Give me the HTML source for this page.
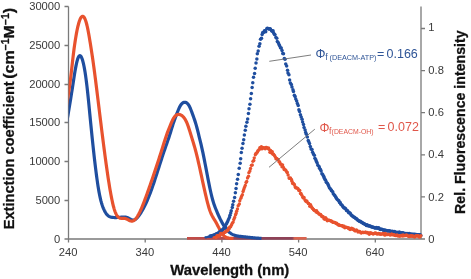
<!DOCTYPE html>
<html><head><meta charset="utf-8"><style>
html,body{margin:0;padding:0;background:#fff;width:471px;height:279px;overflow:hidden}
svg{position:absolute;left:0;top:0;font-family:"Liberation Sans",sans-serif;will-change:transform}
</style></head><body>
<svg width="471" height="279" viewBox="0 0 471 279">
<defs><clipPath id="plot"><rect x="68.6" y="0" width="352.4" height="279"/></clipPath></defs>
<path d="M68.5 6.5 V239 H421 M64.5 6.5 H68.5 M64.5 45.5 H68.5 M64.5 84.5 H68.5 M64.5 122.5 H68.5 M64.5 161.5 H68.5 M64.5 200.5 H68.5 M64.5 239 H68.5" stroke="#7a7a7a" stroke-width="1.3" fill="none"/>
<path d=" M68.5 239 V242.5 M145.2 239 V242.5 M221.9 239 V242.5 M298.6 239 V242.5 M375.3 239 V242.5" stroke="#7a7a7a" stroke-width="1.3" fill="none"/>
<path d="M421 6.5 V239  M421 239.0 H425 M421 196.9 H425 M421 154.8 H425 M421 112.7 H425 M421 70.6 H425 M421 28.5 H425" stroke="#7a7a7a" stroke-width="1.3" fill="none"/>
<linearGradient id="bl" gradientUnits="userSpaceOnUse" x1="187" y1="0" x2="306.6" y2="0"><stop offset="0" stop-color="#c44c46"/><stop offset="0.3" stop-color="#b44a50"/><stop offset="0.45" stop-color="#8e4257"/><stop offset="0.88" stop-color="#8e4257"/><stop offset="0.9" stop-color="#d9644f"/><stop offset="1" stop-color="#d9644f"/></linearGradient>
<path d="M187 238.4 H306.6" stroke="url(#bl)" stroke-width="2.8" fill="none"/>
<path clip-path="url(#plot)" d="M66.00 126.21 L66.50 123.43 L67.00 120.64 L67.50 117.82 L68.00 114.96 L68.50 112.04 L69.00 109.07 L69.50 106.05 L70.00 102.98 L70.50 99.89 L71.00 96.77 L71.50 93.62 L72.00 90.44 L72.50 87.23 L73.00 83.97 L73.50 80.72 L74.00 77.50 L74.50 74.36 L75.00 71.34 L75.50 68.49 L76.00 65.85 L76.50 63.46 L77.00 61.37 L77.50 59.58 L78.00 58.13 L78.50 57.00 L79.00 56.20 L79.50 55.75 L80.00 55.64 L80.50 55.88 L81.00 56.44 L81.50 57.32 L82.00 58.52 L82.50 60.02 L83.00 61.81 L83.50 63.89 L84.00 66.25 L84.50 68.90 L85.00 71.85 L85.50 75.09 L86.00 78.64 L86.50 82.47 L87.00 86.60 L87.50 91.02 L88.00 95.71 L88.50 100.63 L89.00 105.69 L89.50 110.84 L90.00 116.02 L90.50 121.15 L91.00 126.21 L91.50 131.20 L92.00 136.11 L92.50 140.93 L93.00 145.66 L93.50 150.29 L94.00 154.81 L94.50 159.21 L95.00 163.49 L95.50 167.63 L96.00 171.63 L96.50 175.47 L97.00 179.14 L97.50 182.63 L98.00 185.92 L98.50 189.02 L99.00 191.89 L99.50 194.54 L100.00 196.95 L100.50 199.14 L101.00 201.13 L101.50 202.92 L102.00 204.55 L102.50 206.02 L103.00 207.35 L103.50 208.56 L104.00 209.67 L104.50 210.70 L105.00 211.64 L105.50 212.51 L106.00 213.30 L106.50 214.01 L107.00 214.63 L107.50 215.17 L108.00 215.63 L108.50 216.02 L109.00 216.34 L109.50 216.60 L110.00 216.82 L110.50 216.98 L111.00 217.12 L111.50 217.22 L112.00 217.31 L112.50 217.38 L113.00 217.43 L113.50 217.48 L114.00 217.51 L114.50 217.53 L115.00 217.55 L115.50 217.55 L116.00 217.54 L116.50 217.53 L117.00 217.51 L117.50 217.48 L118.00 217.45 L118.50 217.41 L119.00 217.37 L119.50 217.32 L120.00 217.27 L120.50 217.22 L121.00 217.17 L121.50 217.12 L122.00 217.07 L122.50 217.04 L123.00 217.01 L123.50 216.99 L124.00 216.99 L124.50 217.01 L125.00 217.05 L125.50 217.11 L126.00 217.19 L126.50 217.30 L127.00 217.44 L127.50 217.61 L128.00 217.82 L128.50 218.06 L129.00 218.32 L129.50 218.60 L130.00 218.89 L130.50 219.16 L131.00 219.42 L131.50 219.65 L132.00 219.84 L132.50 219.97 L133.00 220.05 L133.50 220.05 L134.00 219.97 L134.50 219.81 L135.00 219.57 L135.50 219.27 L136.00 218.89 L136.50 218.46 L137.00 217.97 L137.50 217.42 L138.00 216.83 L138.50 216.20 L139.00 215.52 L139.50 214.82 L140.00 214.08 L140.50 213.32 L141.00 212.53 L141.50 211.72 L142.00 210.88 L142.50 210.01 L143.00 209.12 L143.50 208.20 L144.00 207.26 L144.50 206.28 L145.00 205.28 L145.50 204.25 L146.00 203.20 L146.50 202.11 L147.00 200.99 L147.50 199.85 L148.00 198.67 L148.50 197.47 L149.00 196.23 L149.50 194.97 L150.00 193.67 L150.50 192.34 L151.00 190.99 L151.50 189.61 L152.00 188.20 L152.50 186.78 L153.00 185.33 L153.50 183.86 L154.00 182.37 L154.50 180.87 L155.00 179.36 L155.50 177.83 L156.00 176.29 L156.50 174.74 L157.00 173.19 L157.50 171.63 L158.00 170.06 L158.50 168.49 L159.00 166.93 L159.50 165.36 L160.00 163.79 L160.50 162.23 L161.00 160.68 L161.50 159.14 L162.00 157.60 L162.50 156.07 L163.00 154.56 L163.50 153.07 L164.00 151.58 L164.50 150.12 L165.00 148.68 L165.50 147.25 L166.00 145.82 L166.50 144.40 L167.00 142.98 L167.50 141.55 L168.00 140.10 L168.50 138.62 L169.00 137.13 L169.50 135.59 L170.00 134.02 L170.50 132.41 L171.00 130.79 L171.50 129.15 L172.00 127.53 L172.50 125.93 L173.00 124.38 L173.50 122.87 L174.00 121.42 L174.50 120.01 L175.00 118.63 L175.50 117.28 L176.00 115.94 L176.50 114.61 L177.00 113.29 L177.50 111.99 L178.00 110.73 L178.50 109.51 L179.00 108.36 L179.50 107.29 L180.00 106.33 L180.50 105.47 L181.00 104.73 L181.50 104.09 L182.00 103.56 L182.50 103.13 L183.00 102.79 L183.50 102.54 L184.00 102.38 L184.50 102.31 L185.00 102.31 L185.50 102.39 L186.00 102.55 L186.50 102.79 L187.00 103.13 L187.50 103.58 L188.00 104.13 L188.50 104.79 L189.00 105.58 L189.50 106.50 L190.00 107.56 L190.50 108.72 L191.00 109.98 L191.50 111.30 L192.00 112.66 L192.50 114.04 L193.00 115.41 L193.50 116.79 L194.00 118.19 L194.50 119.62 L195.00 121.12 L195.50 122.69 L196.00 124.36 L196.50 126.14 L197.00 128.02 L197.50 129.97 L198.00 131.97 L198.50 133.99 L199.00 136.01 L199.50 138.03 L200.00 140.06 L200.50 142.11 L201.00 144.21 L201.50 146.35 L202.00 148.55 L202.50 150.83 L203.00 153.18 L203.50 155.60 L204.00 158.09 L204.50 160.62 L205.00 163.19 L205.50 165.80 L206.00 168.41 L206.50 171.04 L207.00 173.66 L207.50 176.27 L208.00 178.85 L208.50 181.40 L209.00 183.90 L209.50 186.34 L210.00 188.72 L210.50 191.02 L211.00 193.23 L211.50 195.34 L212.00 197.35 L212.50 199.23 L213.00 200.99 L213.50 202.63 L214.00 204.16 L214.50 205.59 L215.00 206.96 L215.50 208.26 L216.00 209.51 L216.50 210.73 L217.00 211.93 L217.50 213.10 L218.00 214.25 L218.50 215.37 L219.00 216.47 L219.50 217.54 L220.00 218.58 L220.50 219.60 L221.00 220.58 L221.50 221.54 L222.00 222.47 L222.50 223.37 L223.00 224.23 L223.50 225.07 L224.00 225.87 L224.50 226.64 L225.00 227.37 L225.50 228.08 L226.00 228.74 L226.50 229.37 L227.00 229.97 L227.50 230.53 L228.00 231.05 L228.50 231.54 L229.00 232.00 L229.50 232.43 L230.00 232.82 L230.50 233.19 L231.00 233.53 L231.50 233.84 L232.00 234.13 L232.50 234.39 L233.00 234.63 L233.50 234.85 L234.00 235.05 L234.50 235.23 L235.00 235.40 L235.50 235.54 L236.00 235.68 L236.50 235.80 L237.00 235.90 L237.50 236.00 L238.00 236.08 L238.50 236.16 L239.00 236.23 L239.50 236.29 L240.00 236.35 L240.50 236.41 L241.00 236.46 L241.50 236.51 L242.00 236.56 L242.50 236.62 L243.00 236.67 L243.50 236.72 L244.00 236.78 L244.50 236.83 L245.00 236.89 L245.50 236.94 L246.00 237.00 L246.50 237.05 L247.00 237.11 L247.50 237.16 L248.00 237.22 L248.50 237.27 L249.00 237.32 L249.50 237.38 L250.00 237.43 L250.50 237.48 L251.00 237.53 L251.50 237.59 L252.00 237.64 L252.50 237.69 L253.00 237.74 L253.50 237.78 L254.00 237.83 L254.50 237.88 L255.00 237.92 L255.50 237.97 L256.00 238.01 L256.50 238.05 L257.00 238.09 L257.50 238.13 L258.00 238.17 L258.50 238.20 L259.00 238.24 L259.50 238.27 L260.00 238.30 L260.50 238.33 L261.00 238.35 L261.50 238.38" stroke="#1f4e9f" stroke-width="3.2" fill="none" stroke-linejoin="round" stroke-linecap="butt"/>
<path clip-path="url(#plot)" d="M66.00 109.23 L66.50 106.11 L67.00 102.99 L67.50 99.83 L68.00 96.63 L68.50 93.38 L69.00 90.05 L69.50 86.59 L70.00 82.96 L70.50 79.11 L71.00 74.99 L71.50 70.66 L72.00 66.21 L72.50 61.76 L73.00 57.41 L73.50 53.23 L74.00 49.28 L74.50 45.59 L75.00 42.15 L75.50 38.93 L76.00 35.93 L76.50 33.13 L77.00 30.54 L77.50 28.16 L78.00 25.98 L78.50 24.03 L79.00 22.28 L79.50 20.76 L80.00 19.45 L80.50 18.37 L81.00 17.51 L81.50 16.88 L82.00 16.48 L82.50 16.31 L83.00 16.38 L83.50 16.68 L84.00 17.22 L84.50 17.99 L85.00 19.01 L85.50 20.27 L86.00 21.77 L86.50 23.51 L87.00 25.49 L87.50 27.72 L88.00 30.15 L88.50 32.78 L89.00 35.56 L89.50 38.46 L90.00 41.46 L90.50 44.54 L91.00 47.69 L91.50 50.91 L92.00 54.20 L92.50 57.57 L93.00 61.05 L93.50 64.63 L94.00 68.30 L94.50 72.06 L95.00 75.89 L95.50 79.79 L96.00 83.74 L96.50 87.74 L97.00 91.77 L97.50 95.83 L98.00 99.91 L98.50 103.98 L99.00 108.06 L99.50 112.14 L100.00 116.21 L100.50 120.27 L101.00 124.31 L101.50 128.33 L102.00 132.33 L102.50 136.30 L103.00 140.24 L103.50 144.14 L104.00 148.00 L104.50 151.82 L105.00 155.59 L105.50 159.30 L106.00 162.96 L106.50 166.56 L107.00 170.09 L107.50 173.54 L108.00 176.90 L108.50 180.18 L109.00 183.36 L109.50 186.44 L110.00 189.41 L110.50 192.26 L111.00 194.98 L111.50 197.58 L112.00 200.04 L112.50 202.36 L113.00 204.52 L113.50 206.53 L114.00 208.36 L114.50 210.01 L115.00 211.47 L115.50 212.76 L116.00 213.88 L116.50 214.85 L117.00 215.67 L117.50 216.35 L118.00 216.90 L118.50 217.35 L119.00 217.69 L119.50 217.95 L120.00 218.13 L120.50 218.26 L121.00 218.33 L121.50 218.36 L122.00 218.38 L122.50 218.38 L123.00 218.38 L123.50 218.38 L124.00 218.40 L124.50 218.44 L125.00 218.50 L125.50 218.61 L126.00 218.76 L126.50 218.95 L127.00 219.18 L127.50 219.43 L128.00 219.70 L128.50 219.97 L129.00 220.23 L129.50 220.48 L130.00 220.71 L130.50 220.89 L131.00 221.03 L131.50 221.11 L132.00 221.12 L132.50 221.06 L133.00 220.91 L133.50 220.68 L134.00 220.37 L134.50 219.99 L135.00 219.53 L135.50 219.01 L136.00 218.42 L136.50 217.76 L137.00 217.04 L137.50 216.27 L138.00 215.44 L138.50 214.55 L139.00 213.61 L139.50 212.63 L140.00 211.60 L140.50 210.53 L141.00 209.42 L141.50 208.27 L142.00 207.09 L142.50 205.87 L143.00 204.63 L143.50 203.36 L144.00 202.06 L144.50 200.74 L145.00 199.41 L145.50 198.06 L146.00 196.69 L146.50 195.32 L147.00 193.93 L147.50 192.54 L148.00 191.14 L148.50 189.73 L149.00 188.32 L149.50 186.90 L150.00 185.47 L150.50 184.03 L151.00 182.59 L151.50 181.14 L152.00 179.68 L152.50 178.22 L153.00 176.75 L153.50 175.28 L154.00 173.79 L154.50 172.31 L155.00 170.81 L155.50 169.31 L156.00 167.80 L156.50 166.29 L157.00 164.77 L157.50 163.25 L158.00 161.72 L158.50 160.18 L159.00 158.64 L159.50 157.10 L160.00 155.54 L160.50 153.98 L161.00 152.42 L161.50 150.84 L162.00 149.25 L162.50 147.65 L163.00 146.04 L163.50 144.44 L164.00 142.84 L164.50 141.26 L165.00 139.70 L165.50 138.16 L166.00 136.66 L166.50 135.19 L167.00 133.76 L167.50 132.38 L168.00 131.04 L168.50 129.75 L169.00 128.49 L169.50 127.26 L170.00 126.05 L170.50 124.85 L171.00 123.66 L171.50 122.49 L172.00 121.35 L172.50 120.28 L173.00 119.28 L173.50 118.36 L174.00 117.56 L174.50 116.86 L175.00 116.26 L175.50 115.75 L176.00 115.33 L176.50 115.00 L177.00 114.75 L177.50 114.58 L178.00 114.47 L178.50 114.43 L179.00 114.45 L179.50 114.53 L180.00 114.66 L180.50 114.83 L181.00 115.06 L181.50 115.34 L182.00 115.68 L182.50 116.08 L183.00 116.55 L183.50 117.08 L184.00 117.69 L184.50 118.38 L185.00 119.15 L185.50 120.00 L186.00 120.95 L186.50 121.98 L187.00 123.12 L187.50 124.35 L188.00 125.70 L188.50 127.14 L189.00 128.66 L189.50 130.25 L190.00 131.87 L190.50 133.51 L191.00 135.14 L191.50 136.75 L192.00 138.36 L192.50 139.97 L193.00 141.60 L193.50 143.24 L194.00 144.92 L194.50 146.64 L195.00 148.41 L195.50 150.25 L196.00 152.15 L196.50 154.12 L197.00 156.14 L197.50 158.23 L198.00 160.36 L198.50 162.53 L199.00 164.74 L199.50 166.98 L200.00 169.25 L200.50 171.54 L201.00 173.85 L201.50 176.16 L202.00 178.47 L202.50 180.79 L203.00 183.09 L203.50 185.38 L204.00 187.66 L204.50 189.90 L205.00 192.12 L205.50 194.30 L206.00 196.44 L206.50 198.53 L207.00 200.57 L207.50 202.54 L208.00 204.44 L208.50 206.25 L209.00 207.94 L209.50 209.52 L210.00 210.95 L210.50 212.26 L211.00 213.46 L211.50 214.55 L212.00 215.57 L212.50 216.51 L213.00 217.40 L213.50 218.25 L214.00 219.07 L214.50 219.88 L215.00 220.69 L215.50 221.52 L216.00 222.38 L216.50 223.28 L217.00 224.21 L217.50 225.17 L218.00 226.15 L218.50 227.13 L219.00 228.11 L219.50 229.08 L220.00 230.03 L220.50 230.94 L221.00 231.82 L221.50 232.64 L222.00 233.42 L222.50 234.14 L223.00 234.79 L223.50 235.37 L224.00 235.88 L224.50 236.31 L225.00 236.68 L225.50 236.99 L226.00 237.24 L226.50 237.46 L227.00 237.64 L227.50 237.78 L228.00 237.91 L228.50 238.03 L229.00 238.13 L229.50 238.21 L230.00 238.29 L230.50 238.36 L231.00 238.40 L231.50 238.40 L232.00 238.40 L232.50 238.40 L233.00 238.40 L233.50 238.40" stroke="#e8522e" stroke-width="3.2" fill="none" stroke-linejoin="round" stroke-linecap="butt"/>
<g fill="#1f4e9f"><circle cx="205.37" cy="237.32" r="1.1"/><circle cx="206.14" cy="237.33" r="1.1"/><circle cx="206.80" cy="237.26" r="1.1"/><circle cx="207.73" cy="236.79" r="1.1"/><circle cx="208.31" cy="236.74" r="1.1"/><circle cx="209.10" cy="236.72" r="1.1"/><circle cx="210.15" cy="236.06" r="1.75"/><circle cx="210.65" cy="236.13" r="1.75"/><circle cx="211.66" cy="235.77" r="1.75"/><circle cx="212.48" cy="235.56" r="1.75"/><circle cx="213.09" cy="235.77" r="1.75"/><circle cx="213.89" cy="234.98" r="1.75"/><circle cx="214.83" cy="234.86" r="1.75"/><circle cx="215.34" cy="234.75" r="1.75"/><circle cx="216.06" cy="233.99" r="1.75"/><circle cx="216.73" cy="233.72" r="1.75"/><circle cx="217.67" cy="233.36" r="1.75"/><circle cx="218.60" cy="232.90" r="1.75"/><circle cx="219.31" cy="232.08" r="1.75"/><circle cx="219.85" cy="231.93" r="1.75"/><circle cx="220.62" cy="231.74" r="1.75"/><circle cx="221.43" cy="230.34" r="1.75"/><circle cx="222.29" cy="230.31" r="1.75"/><circle cx="223.00" cy="229.31" r="1.75"/><circle cx="223.82" cy="228.17" r="1.75"/><circle cx="224.59" cy="227.86" r="1.75"/><circle cx="225.29" cy="226.28" r="1.75"/><circle cx="226.09" cy="224.30" r="1.75"/><circle cx="226.88" cy="223.09" r="1.75"/><circle cx="227.61" cy="221.50" r="1.75"/><circle cx="228.45" cy="219.38" r="1.75"/><circle cx="229.38" cy="217.62" r="1.75"/><circle cx="230.00" cy="215.20" r="1.75"/><circle cx="230.70" cy="213.10" r="1.75"/><circle cx="231.25" cy="210.87" r="1.75"/><circle cx="232.27" cy="207.48" r="1.75"/><circle cx="232.76" cy="204.84" r="1.75"/><circle cx="233.59" cy="201.26" r="1.75"/><circle cx="234.63" cy="197.62" r="1.75"/><circle cx="235.37" cy="192.79" r="1.75"/><circle cx="236.04" cy="188.41" r="1.75"/><circle cx="236.62" cy="183.78" r="1.75"/><circle cx="237.54" cy="179.33" r="1.75"/><circle cx="238.27" cy="174.42" r="1.75"/><circle cx="239.20" cy="168.20" r="1.75"/><circle cx="240.16" cy="163.27" r="1.75"/><circle cx="240.68" cy="158.81" r="1.75"/><circle cx="241.33" cy="152.39" r="1.75"/><circle cx="242.05" cy="148.17" r="1.75"/><circle cx="242.95" cy="143.55" r="1.75"/><circle cx="243.70" cy="139.72" r="1.75"/><circle cx="244.35" cy="135.07" r="1.75"/><circle cx="245.27" cy="130.32" r="1.75"/><circle cx="245.88" cy="126.19" r="1.75"/><circle cx="246.92" cy="122.15" r="1.75"/><circle cx="247.68" cy="119.03" r="1.75"/><circle cx="248.45" cy="113.44" r="1.75"/><circle cx="249.03" cy="108.87" r="1.75"/><circle cx="249.91" cy="104.34" r="1.75"/><circle cx="250.60" cy="98.83" r="1.75"/><circle cx="251.34" cy="93.44" r="1.75"/><circle cx="252.11" cy="87.40" r="1.75"/><circle cx="252.76" cy="82.83" r="1.75"/><circle cx="253.51" cy="77.30" r="1.75"/><circle cx="254.55" cy="73.46" r="1.75"/><circle cx="255.20" cy="68.23" r="1.75"/><circle cx="256.01" cy="63.01" r="1.75"/><circle cx="256.87" cy="59.02" r="1.75"/><circle cx="257.31" cy="53.84" r="1.75"/><circle cx="258.19" cy="50.88" r="1.75"/><circle cx="259.07" cy="46.35" r="1.75"/><circle cx="259.86" cy="43.65" r="1.75"/><circle cx="260.54" cy="39.31" r="1.75"/><circle cx="261.47" cy="38.33" r="1.75"/><circle cx="262.14" cy="34.56" r="1.75"/><circle cx="262.74" cy="32.52" r="1.75"/><circle cx="263.54" cy="32.55" r="1.75"/><circle cx="264.51" cy="30.78" r="1.75"/><circle cx="265.24" cy="30.68" r="1.75"/><circle cx="265.72" cy="31.69" r="1.75"/><circle cx="266.88" cy="28.39" r="1.75"/><circle cx="267.55" cy="28.19" r="1.75"/><circle cx="268.41" cy="28.75" r="1.75"/><circle cx="268.97" cy="29.04" r="1.75"/><circle cx="269.75" cy="28.70" r="1.75"/><circle cx="270.41" cy="29.11" r="1.75"/><circle cx="271.62" cy="30.54" r="1.75"/><circle cx="272.06" cy="31.19" r="1.75"/><circle cx="273.04" cy="30.82" r="1.75"/><circle cx="273.54" cy="32.80" r="1.75"/><circle cx="274.40" cy="34.21" r="1.75"/><circle cx="274.95" cy="34.73" r="1.75"/><circle cx="275.87" cy="37.45" r="1.75"/><circle cx="276.80" cy="38.20" r="1.75"/><circle cx="277.30" cy="41.53" r="1.75"/><circle cx="278.34" cy="42.70" r="1.75"/><circle cx="279.02" cy="44.44" r="1.75"/><circle cx="279.62" cy="45.67" r="1.75"/><circle cx="280.45" cy="47.79" r="1.75"/><circle cx="281.22" cy="47.95" r="1.75"/><circle cx="282.04" cy="50.43" r="1.75"/><circle cx="282.75" cy="53.54" r="1.75"/><circle cx="283.48" cy="53.67" r="1.75"/><circle cx="284.31" cy="58.46" r="1.75"/><circle cx="284.99" cy="59.13" r="1.75"/><circle cx="285.72" cy="64.03" r="1.75"/><circle cx="286.64" cy="65.89" r="1.75"/><circle cx="287.52" cy="70.30" r="1.75"/><circle cx="287.99" cy="72.98" r="1.75"/><circle cx="288.94" cy="74.86" r="1.75"/><circle cx="289.63" cy="79.90" r="1.75"/><circle cx="290.36" cy="82.90" r="1.75"/><circle cx="291.35" cy="84.56" r="1.75"/><circle cx="291.95" cy="87.05" r="1.75"/><circle cx="292.96" cy="89.67" r="1.75"/><circle cx="293.45" cy="91.55" r="1.75"/><circle cx="294.36" cy="95.33" r="1.75"/><circle cx="295.05" cy="96.49" r="1.75"/><circle cx="295.75" cy="99.09" r="1.75"/><circle cx="296.68" cy="100.94" r="1.75"/><circle cx="297.36" cy="103.48" r="1.75"/><circle cx="298.21" cy="105.57" r="1.75"/><circle cx="298.90" cy="109.77" r="1.75"/><circle cx="299.55" cy="111.49" r="1.75"/><circle cx="300.43" cy="114.85" r="1.75"/><circle cx="301.21" cy="116.93" r="1.75"/><circle cx="302.09" cy="119.18" r="1.75"/><circle cx="302.63" cy="122.08" r="1.75"/><circle cx="303.50" cy="124.60" r="1.75"/><circle cx="304.07" cy="127.54" r="1.75"/><circle cx="305.12" cy="129.88" r="1.75"/><circle cx="305.68" cy="132.42" r="1.75"/><circle cx="306.36" cy="134.25" r="1.75"/><circle cx="307.33" cy="136.94" r="1.75"/><circle cx="308.24" cy="140.60" r="1.75"/><circle cx="308.69" cy="141.57" r="1.75"/><circle cx="309.51" cy="143.56" r="1.75"/><circle cx="310.32" cy="146.43" r="1.75"/><circle cx="311.04" cy="149.07" r="1.75"/><circle cx="311.99" cy="149.61" r="1.75"/><circle cx="312.61" cy="152.24" r="1.75"/><circle cx="313.39" cy="153.96" r="1.75"/><circle cx="314.31" cy="155.29" r="1.75"/><circle cx="314.91" cy="158.37" r="1.75"/><circle cx="315.82" cy="159.81" r="1.75"/><circle cx="316.42" cy="161.62" r="1.75"/><circle cx="317.16" cy="162.96" r="1.75"/><circle cx="317.85" cy="165.24" r="1.75"/><circle cx="319.06" cy="166.44" r="1.75"/><circle cx="319.57" cy="168.26" r="1.75"/><circle cx="320.40" cy="169.44" r="1.75"/><circle cx="321.13" cy="170.99" r="1.75"/><circle cx="321.92" cy="173.70" r="1.75"/><circle cx="322.68" cy="174.42" r="1.75"/><circle cx="323.67" cy="176.29" r="1.75"/><circle cx="324.08" cy="177.63" r="1.75"/><circle cx="324.78" cy="178.92" r="1.75"/><circle cx="325.62" cy="180.34" r="1.75"/><circle cx="326.34" cy="182.23" r="1.75"/><circle cx="327.36" cy="183.22" r="1.75"/><circle cx="328.13" cy="184.64" r="1.75"/><circle cx="328.69" cy="186.04" r="1.75"/><circle cx="329.40" cy="187.80" r="1.75"/><circle cx="330.29" cy="188.87" r="1.75"/><circle cx="331.27" cy="189.99" r="1.75"/><circle cx="331.53" cy="190.82" r="1.75"/><circle cx="332.70" cy="191.69" r="1.75"/><circle cx="333.27" cy="193.75" r="1.75"/><circle cx="334.29" cy="194.89" r="1.75"/><circle cx="334.81" cy="195.58" r="1.75"/><circle cx="335.67" cy="196.94" r="1.75"/><circle cx="336.29" cy="198.10" r="1.75"/><circle cx="337.12" cy="199.18" r="1.75"/><circle cx="338.17" cy="200.25" r="1.75"/><circle cx="338.87" cy="200.77" r="1.75"/><circle cx="339.49" cy="202.49" r="1.75"/><circle cx="340.20" cy="202.48" r="1.75"/><circle cx="340.84" cy="204.20" r="1.75"/><circle cx="341.79" cy="205.02" r="1.75"/><circle cx="342.60" cy="206.08" r="1.75"/><circle cx="343.36" cy="207.34" r="1.75"/><circle cx="344.12" cy="208.09" r="1.75"/><circle cx="344.76" cy="208.06" r="1.75"/><circle cx="345.66" cy="208.73" r="1.75"/><circle cx="346.43" cy="210.42" r="1.75"/><circle cx="347.35" cy="210.62" r="1.75"/><circle cx="348.19" cy="211.76" r="1.75"/><circle cx="348.72" cy="212.82" r="1.75"/><circle cx="349.41" cy="212.76" r="1.75"/><circle cx="350.26" cy="213.35" r="1.75"/><circle cx="350.96" cy="214.84" r="1.75"/><circle cx="351.71" cy="215.47" r="1.75"/><circle cx="352.56" cy="216.05" r="1.75"/><circle cx="353.21" cy="216.79" r="1.75"/><circle cx="354.17" cy="217.13" r="1.75"/><circle cx="354.85" cy="217.53" r="1.75"/><circle cx="355.66" cy="218.54" r="1.75"/><circle cx="356.37" cy="218.85" r="1.75"/><circle cx="357.08" cy="219.19" r="1.75"/><circle cx="357.82" cy="220.37" r="1.75"/><circle cx="358.67" cy="220.70" r="1.75"/><circle cx="359.40" cy="221.33" r="1.75"/><circle cx="360.26" cy="221.37" r="1.75"/><circle cx="360.99" cy="221.92" r="1.75"/><circle cx="361.60" cy="222.25" r="1.75"/><circle cx="362.54" cy="222.69" r="1.75"/><circle cx="363.13" cy="223.41" r="1.75"/><circle cx="363.99" cy="223.51" r="1.75"/><circle cx="364.79" cy="224.21" r="1.75"/><circle cx="365.35" cy="224.55" r="1.75"/><circle cx="366.37" cy="225.39" r="1.75"/><circle cx="367.15" cy="224.71" r="1.75"/><circle cx="367.88" cy="225.69" r="1.75"/><circle cx="368.61" cy="225.70" r="1.75"/><circle cx="369.38" cy="226.01" r="1.75"/><circle cx="370.08" cy="225.88" r="1.75"/><circle cx="370.93" cy="226.43" r="1.75"/><circle cx="371.66" cy="227.03" r="1.75"/><circle cx="372.50" cy="227.04" r="1.75"/><circle cx="373.12" cy="227.32" r="1.75"/><circle cx="374.05" cy="227.45" r="1.75"/><circle cx="374.81" cy="228.08" r="1.75"/><circle cx="375.54" cy="227.96" r="1.75"/><circle cx="376.27" cy="227.55" r="1.75"/><circle cx="377.16" cy="228.18" r="1.75"/><circle cx="377.66" cy="228.02" r="1.75"/><circle cx="378.68" cy="227.85" r="1.75"/><circle cx="379.42" cy="228.80" r="1.75"/><circle cx="380.19" cy="229.51" r="1.75"/><circle cx="380.97" cy="229.33" r="1.75"/><circle cx="381.61" cy="229.16" r="1.75"/><circle cx="382.43" cy="229.40" r="1.75"/><circle cx="383.30" cy="230.14" r="1.75"/><circle cx="384.04" cy="230.04" r="1.75"/><circle cx="384.78" cy="230.17" r="1.75"/><circle cx="385.34" cy="230.30" r="1.75"/><circle cx="386.35" cy="230.48" r="1.75"/><circle cx="387.20" cy="230.84" r="1.75"/><circle cx="387.94" cy="230.92" r="1.75"/><circle cx="388.62" cy="230.97" r="1.75"/><circle cx="389.17" cy="230.77" r="1.75"/><circle cx="390.24" cy="231.34" r="1.75"/><circle cx="390.87" cy="231.15" r="1.75"/><circle cx="391.35" cy="231.76" r="1.75"/><circle cx="392.47" cy="231.25" r="1.75"/><circle cx="393.01" cy="231.69" r="1.75"/><circle cx="393.80" cy="231.85" r="1.75"/><circle cx="394.65" cy="231.61" r="1.75"/><circle cx="395.64" cy="232.56" r="1.75"/><circle cx="396.21" cy="232.60" r="1.75"/><circle cx="397.05" cy="232.20" r="1.75"/><circle cx="398.00" cy="232.64" r="1.75"/><circle cx="398.75" cy="232.65" r="1.75"/><circle cx="399.31" cy="231.95" r="1.75"/><circle cx="400.06" cy="232.83" r="1.75"/><circle cx="400.70" cy="232.85" r="1.75"/><circle cx="401.54" cy="232.99" r="1.75"/><circle cx="402.44" cy="232.77" r="1.75"/><circle cx="403.20" cy="233.09" r="1.75"/><circle cx="403.93" cy="233.21" r="1.75"/><circle cx="404.81" cy="233.66" r="1.75"/><circle cx="405.36" cy="233.53" r="1.75"/><circle cx="406.21" cy="233.52" r="1.75"/><circle cx="407.07" cy="234.02" r="1.75"/><circle cx="407.82" cy="233.55" r="1.75"/><circle cx="408.65" cy="233.68" r="1.75"/><circle cx="409.33" cy="233.38" r="1.75"/><circle cx="410.01" cy="234.36" r="1.75"/><circle cx="410.86" cy="234.28" r="1.75"/><circle cx="411.46" cy="234.35" r="1.75"/><circle cx="412.15" cy="234.36" r="1.75"/><circle cx="413.19" cy="234.28" r="1.75"/><circle cx="413.88" cy="234.39" r="1.75"/><circle cx="414.69" cy="234.34" r="1.75"/><circle cx="415.21" cy="234.43" r="1.75"/><circle cx="416.14" cy="234.57" r="1.75"/><circle cx="416.88" cy="235.02" r="1.75"/><circle cx="417.61" cy="234.84" r="1.75"/><circle cx="418.21" cy="234.75" r="1.75"/><circle cx="419.21" cy="234.69" r="1.75"/><circle cx="420.12" cy="234.74" r="1.75"/><circle cx="420.83" cy="235.40" r="1.75"/></g>
<g fill="#e8522e"><circle cx="213.68" cy="237.42" r="1.1"/><circle cx="214.62" cy="237.12" r="1.1"/><circle cx="215.41" cy="236.74" r="1.1"/><circle cx="216.04" cy="237.53" r="1.7"/><circle cx="216.99" cy="235.80" r="1.7"/><circle cx="217.60" cy="236.23" r="1.7"/><circle cx="218.32" cy="235.37" r="1.7"/><circle cx="219.21" cy="236.03" r="1.7"/><circle cx="220.05" cy="235.60" r="1.7"/><circle cx="220.65" cy="233.49" r="1.7"/><circle cx="221.53" cy="233.56" r="1.7"/><circle cx="222.25" cy="233.93" r="1.7"/><circle cx="223.36" cy="233.55" r="1.7"/><circle cx="223.71" cy="233.07" r="1.7"/><circle cx="224.72" cy="232.19" r="1.7"/><circle cx="225.32" cy="231.93" r="1.7"/><circle cx="226.08" cy="231.48" r="1.7"/><circle cx="226.94" cy="230.54" r="1.7"/><circle cx="227.73" cy="230.45" r="1.7"/><circle cx="228.54" cy="228.10" r="1.7"/><circle cx="229.20" cy="228.74" r="1.7"/><circle cx="229.85" cy="226.95" r="1.7"/><circle cx="230.63" cy="226.86" r="1.7"/><circle cx="231.52" cy="224.97" r="1.7"/><circle cx="232.29" cy="223.13" r="1.7"/><circle cx="233.16" cy="222.11" r="1.7"/><circle cx="233.81" cy="219.54" r="1.7"/><circle cx="234.65" cy="217.48" r="1.7"/><circle cx="235.47" cy="214.89" r="1.7"/><circle cx="236.08" cy="213.42" r="1.7"/><circle cx="236.64" cy="211.26" r="1.7"/><circle cx="237.45" cy="209.04" r="1.7"/><circle cx="238.18" cy="205.76" r="1.7"/><circle cx="239.31" cy="203.95" r="1.7"/><circle cx="239.79" cy="200.80" r="1.7"/><circle cx="240.80" cy="198.33" r="1.7"/><circle cx="241.49" cy="196.49" r="1.7"/><circle cx="242.39" cy="194.63" r="1.7"/><circle cx="243.07" cy="191.54" r="1.7"/><circle cx="243.71" cy="189.48" r="1.7"/><circle cx="244.46" cy="187.41" r="1.7"/><circle cx="245.26" cy="185.41" r="1.7"/><circle cx="246.04" cy="182.45" r="1.7"/><circle cx="246.72" cy="181.52" r="1.7"/><circle cx="247.55" cy="178.02" r="1.7"/><circle cx="248.51" cy="176.17" r="1.7"/><circle cx="248.88" cy="172.63" r="1.7"/><circle cx="249.88" cy="171.01" r="1.7"/><circle cx="250.51" cy="168.50" r="1.7"/><circle cx="251.41" cy="165.35" r="1.7"/><circle cx="252.25" cy="164.97" r="1.7"/><circle cx="252.91" cy="161.33" r="1.7"/><circle cx="253.78" cy="160.43" r="1.7"/><circle cx="254.26" cy="157.85" r="1.7"/><circle cx="255.35" cy="154.77" r="1.7"/><circle cx="255.91" cy="153.56" r="1.7"/><circle cx="256.83" cy="153.03" r="1.7"/><circle cx="257.54" cy="151.63" r="1.7"/><circle cx="257.97" cy="150.73" r="1.7"/><circle cx="258.96" cy="149.70" r="1.7"/><circle cx="259.84" cy="147.75" r="1.7"/><circle cx="260.77" cy="148.72" r="1.7"/><circle cx="261.38" cy="146.61" r="1.7"/><circle cx="262.15" cy="148.74" r="1.7"/><circle cx="262.71" cy="147.64" r="1.7"/><circle cx="263.82" cy="147.63" r="1.7"/><circle cx="264.63" cy="148.14" r="1.7"/><circle cx="265.19" cy="148.73" r="1.7"/><circle cx="265.92" cy="147.40" r="1.7"/><circle cx="266.52" cy="147.41" r="1.7"/><circle cx="267.59" cy="148.38" r="1.7"/><circle cx="268.57" cy="147.94" r="1.7"/><circle cx="269.10" cy="149.41" r="1.7"/><circle cx="269.93" cy="152.25" r="1.7"/><circle cx="270.61" cy="150.53" r="1.7"/><circle cx="271.20" cy="152.74" r="1.7"/><circle cx="272.24" cy="151.71" r="1.7"/><circle cx="272.70" cy="153.98" r="1.7"/><circle cx="273.59" cy="154.28" r="1.7"/><circle cx="274.41" cy="155.39" r="1.7"/><circle cx="275.25" cy="156.85" r="1.7"/><circle cx="275.96" cy="158.82" r="1.7"/><circle cx="276.73" cy="158.45" r="1.7"/><circle cx="277.36" cy="159.37" r="1.7"/><circle cx="278.06" cy="159.44" r="1.7"/><circle cx="278.99" cy="161.75" r="1.7"/><circle cx="279.66" cy="162.07" r="1.7"/><circle cx="280.36" cy="163.99" r="1.7"/><circle cx="281.13" cy="164.31" r="1.7"/><circle cx="281.99" cy="166.83" r="1.7"/><circle cx="282.59" cy="164.88" r="1.7"/><circle cx="283.42" cy="167.35" r="1.7"/><circle cx="284.15" cy="169.43" r="1.7"/><circle cx="285.13" cy="169.60" r="1.7"/><circle cx="285.93" cy="170.44" r="1.7"/><circle cx="286.89" cy="172.09" r="1.7"/><circle cx="287.23" cy="172.48" r="1.7"/><circle cx="288.10" cy="174.94" r="1.7"/><circle cx="289.05" cy="178.05" r="1.7"/><circle cx="289.68" cy="178.40" r="1.7"/><circle cx="290.44" cy="178.06" r="1.7"/><circle cx="291.45" cy="179.57" r="1.7"/><circle cx="291.97" cy="181.22" r="1.7"/><circle cx="292.64" cy="183.49" r="1.7"/><circle cx="293.39" cy="183.33" r="1.7"/><circle cx="294.35" cy="184.55" r="1.7"/><circle cx="295.11" cy="186.74" r="1.7"/><circle cx="295.68" cy="187.74" r="1.7"/><circle cx="296.49" cy="187.85" r="1.7"/><circle cx="297.44" cy="188.30" r="1.7"/><circle cx="298.21" cy="188.97" r="1.7"/><circle cx="298.83" cy="190.52" r="1.7"/><circle cx="299.75" cy="190.45" r="1.7"/><circle cx="300.51" cy="193.48" r="1.7"/><circle cx="300.99" cy="193.57" r="1.7"/><circle cx="301.94" cy="195.37" r="1.7"/><circle cx="302.79" cy="197.36" r="1.7"/><circle cx="303.44" cy="197.98" r="1.7"/><circle cx="304.02" cy="197.55" r="1.7"/><circle cx="305.01" cy="199.96" r="1.7"/><circle cx="305.90" cy="201.21" r="1.7"/><circle cx="306.76" cy="201.05" r="1.7"/><circle cx="307.08" cy="201.95" r="1.7"/><circle cx="308.42" cy="203.47" r="1.7"/><circle cx="308.74" cy="203.48" r="1.7"/><circle cx="309.75" cy="206.29" r="1.7"/><circle cx="310.55" cy="204.76" r="1.7"/><circle cx="311.29" cy="206.39" r="1.7"/><circle cx="311.96" cy="207.69" r="1.7"/><circle cx="312.57" cy="208.47" r="1.7"/><circle cx="313.55" cy="209.44" r="1.7"/><circle cx="314.15" cy="210.20" r="1.7"/><circle cx="314.70" cy="210.59" r="1.7"/><circle cx="316.11" cy="212.04" r="1.7"/><circle cx="316.62" cy="210.76" r="1.7"/><circle cx="317.52" cy="212.63" r="1.7"/><circle cx="317.96" cy="212.82" r="1.7"/><circle cx="319.01" cy="213.91" r="1.7"/><circle cx="319.80" cy="214.53" r="1.7"/><circle cx="320.56" cy="214.45" r="1.7"/><circle cx="321.13" cy="215.15" r="1.7"/><circle cx="321.76" cy="216.49" r="1.7"/><circle cx="322.65" cy="216.75" r="1.7"/><circle cx="323.17" cy="216.67" r="1.7"/><circle cx="324.00" cy="218.68" r="1.7"/><circle cx="324.98" cy="219.29" r="1.7"/><circle cx="325.62" cy="217.65" r="1.7"/><circle cx="326.48" cy="219.06" r="1.7"/><circle cx="327.26" cy="220.70" r="1.7"/><circle cx="328.27" cy="220.16" r="1.7"/><circle cx="328.96" cy="220.25" r="1.7"/><circle cx="329.56" cy="220.40" r="1.7"/><circle cx="330.48" cy="220.60" r="1.7"/><circle cx="331.01" cy="221.14" r="1.7"/><circle cx="331.83" cy="221.32" r="1.7"/><circle cx="332.74" cy="222.37" r="1.7"/><circle cx="333.25" cy="222.10" r="1.7"/><circle cx="334.13" cy="222.42" r="1.7"/><circle cx="334.78" cy="222.36" r="1.7"/><circle cx="335.72" cy="223.30" r="1.7"/><circle cx="336.66" cy="223.19" r="1.7"/><circle cx="337.14" cy="223.89" r="1.7"/><circle cx="338.03" cy="224.85" r="1.7"/><circle cx="338.66" cy="224.82" r="1.7"/><circle cx="339.40" cy="225.21" r="1.7"/><circle cx="340.15" cy="225.44" r="1.7"/><circle cx="341.24" cy="225.59" r="1.7"/><circle cx="342.12" cy="225.80" r="1.7"/><circle cx="342.66" cy="226.01" r="1.7"/><circle cx="343.28" cy="226.85" r="1.7"/><circle cx="344.22" cy="226.20" r="1.7"/><circle cx="344.86" cy="227.72" r="1.7"/><circle cx="345.76" cy="227.33" r="1.7"/><circle cx="346.47" cy="227.21" r="1.7"/><circle cx="347.23" cy="227.62" r="1.7"/><circle cx="348.04" cy="227.79" r="1.7"/><circle cx="348.66" cy="228.47" r="1.7"/><circle cx="349.45" cy="228.28" r="1.7"/><circle cx="350.06" cy="229.46" r="1.7"/><circle cx="350.98" cy="228.75" r="1.7"/><circle cx="351.63" cy="228.24" r="1.7"/><circle cx="352.55" cy="229.24" r="1.7"/><circle cx="353.22" cy="228.84" r="1.7"/><circle cx="354.11" cy="230.03" r="1.7"/><circle cx="354.92" cy="230.79" r="1.7"/><circle cx="355.46" cy="230.80" r="1.7"/><circle cx="356.30" cy="230.02" r="1.7"/><circle cx="357.05" cy="230.50" r="1.7"/><circle cx="358.02" cy="231.94" r="1.7"/><circle cx="358.90" cy="231.41" r="1.7"/><circle cx="359.56" cy="231.43" r="1.7"/><circle cx="360.19" cy="232.12" r="1.7"/><circle cx="361.17" cy="232.96" r="1.7"/><circle cx="361.58" cy="232.55" r="1.7"/><circle cx="362.71" cy="232.14" r="1.7"/><circle cx="363.22" cy="232.39" r="1.7"/><circle cx="363.73" cy="232.66" r="1.7"/><circle cx="365.15" cy="232.20" r="1.7"/><circle cx="365.78" cy="232.11" r="1.7"/><circle cx="366.24" cy="232.76" r="1.7"/><circle cx="367.15" cy="232.39" r="1.7"/><circle cx="367.87" cy="232.92" r="1.7"/><circle cx="368.67" cy="233.09" r="1.7"/><circle cx="369.25" cy="234.26" r="1.7"/><circle cx="370.11" cy="232.82" r="1.7"/><circle cx="371.02" cy="233.25" r="1.7"/><circle cx="371.75" cy="233.30" r="1.7"/><circle cx="372.64" cy="233.66" r="1.7"/><circle cx="373.27" cy="234.02" r="1.7"/><circle cx="374.31" cy="233.35" r="1.7"/><circle cx="374.71" cy="233.26" r="1.7"/><circle cx="375.59" cy="232.93" r="1.7"/><circle cx="376.10" cy="233.33" r="1.7"/><circle cx="376.94" cy="234.08" r="1.7"/><circle cx="378.02" cy="233.90" r="1.7"/><circle cx="378.51" cy="233.45" r="1.7"/><circle cx="379.46" cy="233.81" r="1.7"/><circle cx="380.15" cy="234.06" r="1.7"/><circle cx="380.80" cy="234.33" r="1.7"/><circle cx="381.65" cy="233.87" r="1.7"/><circle cx="382.40" cy="234.09" r="1.7"/><circle cx="383.17" cy="233.40" r="1.7"/><circle cx="384.08" cy="233.77" r="1.7"/><circle cx="384.84" cy="235.14" r="1.7"/><circle cx="385.45" cy="233.39" r="1.7"/><circle cx="386.18" cy="234.32" r="1.7"/><circle cx="387.09" cy="234.64" r="1.7"/><circle cx="387.81" cy="234.42" r="1.7"/><circle cx="388.71" cy="234.27" r="1.7"/><circle cx="389.67" cy="234.68" r="1.7"/><circle cx="390.22" cy="234.76" r="1.7"/><circle cx="390.88" cy="234.78" r="1.7"/><circle cx="391.63" cy="233.99" r="1.7"/><circle cx="392.32" cy="234.86" r="1.7"/><circle cx="393.08" cy="234.58" r="1.7"/><circle cx="393.83" cy="234.78" r="1.7"/><circle cx="394.67" cy="235.19" r="1.7"/><circle cx="395.44" cy="235.44" r="1.7"/><circle cx="396.34" cy="235.61" r="1.7"/><circle cx="396.97" cy="235.01" r="1.7"/><circle cx="397.76" cy="235.73" r="1.7"/><circle cx="398.41" cy="235.90" r="1.7"/><circle cx="399.52" cy="235.93" r="1.7"/><circle cx="400.15" cy="236.10" r="1.7"/><circle cx="401.07" cy="235.43" r="1.7"/><circle cx="401.72" cy="235.46" r="1.7"/><circle cx="402.57" cy="235.97" r="1.7"/><circle cx="403.12" cy="235.00" r="1.7"/><circle cx="404.01" cy="235.78" r="1.7"/><circle cx="405.01" cy="235.48" r="1.7"/><circle cx="405.31" cy="235.60" r="1.7"/><circle cx="406.36" cy="235.00" r="1.7"/><circle cx="407.19" cy="235.44" r="1.7"/><circle cx="407.80" cy="235.88" r="1.7"/><circle cx="408.61" cy="236.35" r="1.7"/><circle cx="409.44" cy="236.43" r="1.7"/><circle cx="409.97" cy="235.97" r="1.7"/><circle cx="410.87" cy="235.96" r="1.7"/><circle cx="411.48" cy="235.70" r="1.7"/><circle cx="412.27" cy="236.31" r="1.7"/><circle cx="413.04" cy="236.04" r="1.7"/><circle cx="413.87" cy="236.47" r="1.7"/><circle cx="414.67" cy="237.04" r="1.7"/><circle cx="415.47" cy="236.25" r="1.7"/><circle cx="416.01" cy="235.60" r="1.7"/><circle cx="417.19" cy="235.93" r="1.7"/><circle cx="417.86" cy="235.68" r="1.7"/><circle cx="418.57" cy="235.84" r="1.7"/><circle cx="419.21" cy="237.03" r="1.7"/><circle cx="420.01" cy="236.56" r="1.7"/><circle cx="420.85" cy="235.79" r="1.7"/></g>
<path d="M269.3 61.3 L311 55 M269 167.3 L314.8 129.2" stroke="#6e6e6e" stroke-width="0.9" fill="none"/>
<text x="60.3" y="242.55" font-size="11.2" text-anchor="end" fill="#3a3a3a" font-weight="normal" >0</text>
<text x="60.3" y="203.82" font-size="11.2" text-anchor="end" fill="#3a3a3a" font-weight="normal" >5000</text>
<text x="60.3" y="165.09" font-size="11.2" text-anchor="end" fill="#3a3a3a" font-weight="normal" >10000</text>
<text x="60.3" y="126.36" font-size="11.2" text-anchor="end" fill="#3a3a3a" font-weight="normal" >15000</text>
<text x="60.3" y="87.63" font-size="11.2" text-anchor="end" fill="#3a3a3a" font-weight="normal" >20000</text>
<text x="60.3" y="48.90" font-size="11.2" text-anchor="end" fill="#3a3a3a" font-weight="normal" >25000</text>
<text x="60.3" y="10.17" font-size="11.2" text-anchor="end" fill="#3a3a3a" font-weight="normal" >30000</text>
<text x="68.10" y="256.2" font-size="11.2" text-anchor="middle" fill="#3a3a3a" font-weight="normal" >240</text>
<text x="144.80" y="256.2" font-size="11.2" text-anchor="middle" fill="#3a3a3a" font-weight="normal" >340</text>
<text x="221.50" y="256.2" font-size="11.2" text-anchor="middle" fill="#3a3a3a" font-weight="normal" >440</text>
<text x="298.20" y="256.2" font-size="11.2" text-anchor="middle" fill="#3a3a3a" font-weight="normal" >540</text>
<text x="374.90" y="256.2" font-size="11.2" text-anchor="middle" fill="#3a3a3a" font-weight="normal" >640</text>
<text x="428.3" y="242.95" font-size="11.2" text-anchor="start" fill="#3a3a3a" font-weight="normal" >0</text>
<text x="428.3" y="200.65" font-size="11.2" text-anchor="start" fill="#3a3a3a" font-weight="normal" >0.2</text>
<text x="428.3" y="158.35" font-size="11.2" text-anchor="start" fill="#3a3a3a" font-weight="normal" >0.4</text>
<text x="428.3" y="116.05" font-size="11.2" text-anchor="start" fill="#3a3a3a" font-weight="normal" >0.6</text>
<text x="428.3" y="73.75" font-size="11.2" text-anchor="start" fill="#3a3a3a" font-weight="normal" >0.8</text>
<text x="428.3" y="31.45" font-size="11.2" text-anchor="start" fill="#3a3a3a" font-weight="normal" >1</text>
<text transform="translate(14.1,229.3) rotate(-90)" font-size="15.4" font-weight="bold" fill="#111" stroke="#111" stroke-width="0.3" textLength="148" lengthAdjust="spacingAndGlyphs">Extinction coefficient</text>
<text transform="translate(14.1,78.8) rotate(-90)" font-size="15.4" font-weight="bold" fill="#111" stroke="#111" stroke-width="0.3" textLength="71" lengthAdjust="spacingAndGlyphs">(cm<tspan font-size="10" dy="-5.5">−1</tspan><tspan dy="5.5">M</tspan><tspan font-size="10" dy="-5.5">−1</tspan><tspan dy="5.5">)</tspan></text>
<text transform="translate(465.2,213.9) rotate(-90)" font-size="15.4" font-weight="bold" fill="#111" stroke="#111" stroke-width="0.3" textLength="183.5" lengthAdjust="spacingAndGlyphs">Rel. Fluorescence intensity</text>
<text x="170.3" y="274.8" font-size="15.4" font-weight="bold" fill="#111" stroke="#111" stroke-width="0.3" textLength="119" lengthAdjust="spacingAndGlyphs">Wavelength (nm)</text>
<text x="315.6" y="57.5" font-size="12.5" fill="#2f5597">Φ</text>
<text x="325.2" y="60.3" font-size="8.6" fill="#2f5597">f</text>
<text x="329.5" y="60.3" font-size="7.7" fill="#2f5597" textLength="47" lengthAdjust="spacingAndGlyphs">(DEACM-ATP)</text>
<text x="377" y="57.5" font-size="12.5" fill="#2f5597">=</text>
<text x="386.5" y="57.5" font-size="12.5" fill="#2f5597">0.166</text>
<text x="319.5" y="132.2" font-size="12.5" fill="#e0574a">Φ</text>
<text x="328.9" y="134.2" font-size="8.6" fill="#e0574a">f</text>
<text x="331.6" y="134.4" font-size="7.7" fill="#e0574a" textLength="42" lengthAdjust="spacingAndGlyphs">(DEACM-OH)</text>
<text x="378" y="131.2" font-size="12.5" fill="#e0574a">=</text>
<text x="387.6" y="131.2" font-size="12.5" fill="#e0574a">0.072</text>
</svg>
</body></html>
